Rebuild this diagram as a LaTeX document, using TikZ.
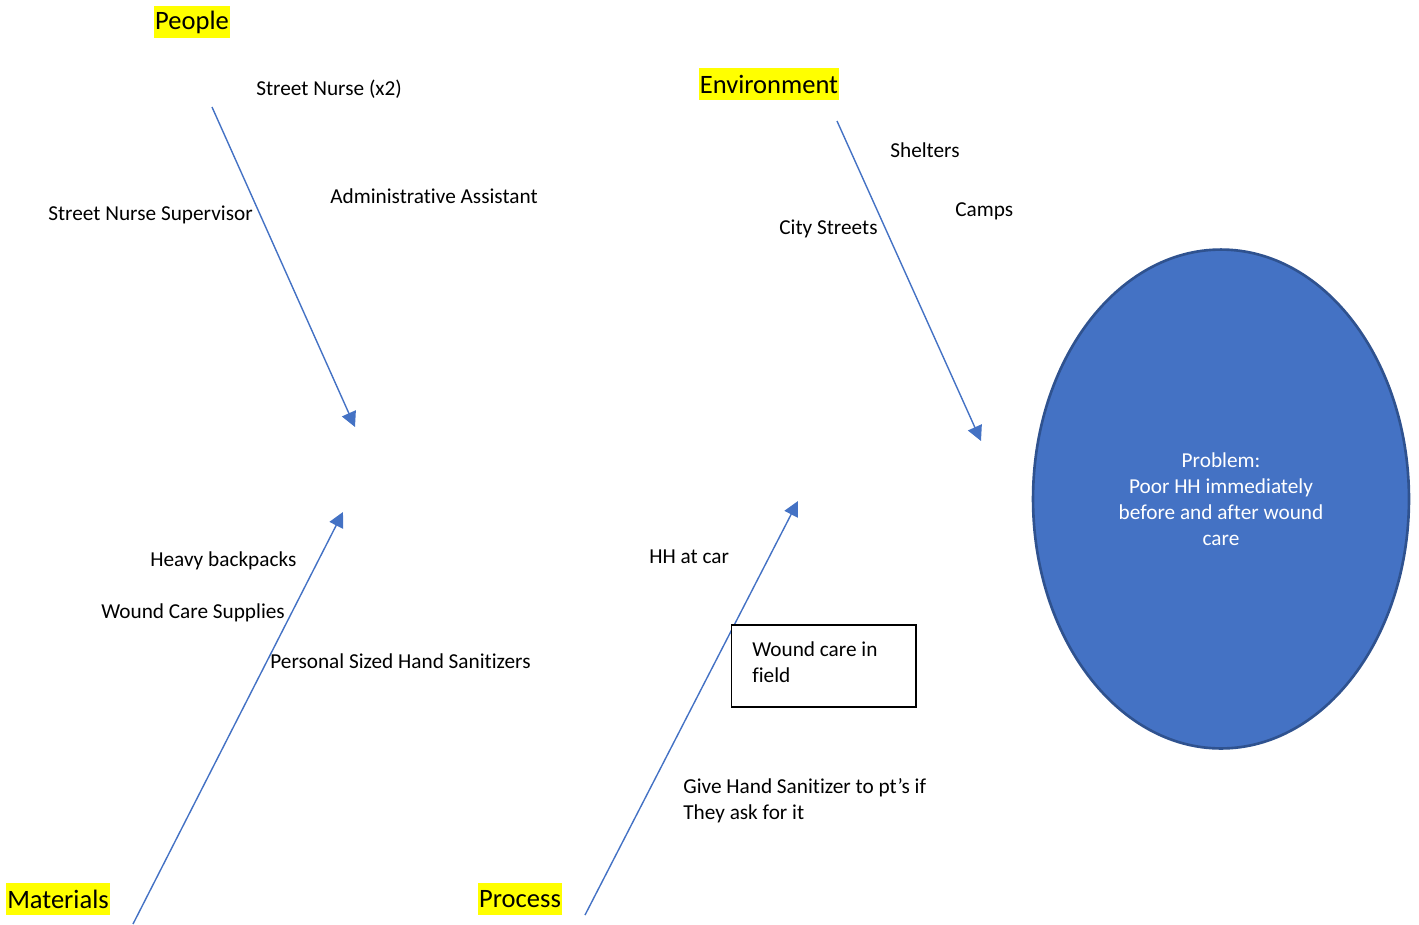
\documentclass[tikz,border=0pt]{standalone}
\usepackage{fontspec}
\setmainfont{Carlito}[Ligatures=NoCommon]
\usetikzlibrary{shapes.geometric,arrows.meta}
\definecolor{arrowblue}{HTML}{4472C4}
\definecolor{ellborder}{HTML}{2F528F}
\definecolor{hl}{HTML}{FFFF00}
\tikzset{
  lbl/.style={anchor=base west, inner sep=0pt, align=left, font=\fontsize{12.1}{14.8}\selectfont},
  cat/.style={fill=hl, inner xsep=0.5pt, inner ysep=0pt, minimum height=0.64cm, font=\fontsize{15.1}{18}\selectfont},
  bone/.style={draw=arrowblue, line width=0.8pt, -{Triangle[length=0.3cm,width=0.3cm]}},
}
\begin{document}
\begin{tikzpicture}[x=0.02cm,y=-0.02cm]
\useasboundingbox (0,0) rectangle (1419,924);

% category labels
\node[cat] (people) at (192,22) {People};
\node[cat] (env) at (769,84) {Environment};
\node[cat] (mat) at (58,899) {Materials};
\node[cat] (proc) at (520,899) {Process};

% arrows
\coordinate (p1) at (212,107);
\coordinate (p2) at (355,427);
\coordinate (e1) at (837,121);
\coordinate (e2) at (981,441);
\coordinate (m1) at (133,924);
\coordinate (m2) at (343,512);
\coordinate (r1) at (585,915);
\coordinate (r2) at (798,501);
\draw[bone] (p1) -- (p2);
\draw[bone] (e1) -- (e2);
\draw[bone] (m1) -- (m2);
\draw[bone] (r1) -- (r2);

% labels
\node[lbl] (sn2) at (256,95) {Street Nurse (x2)};
\node[lbl] (sns) at (48,220) {Street Nurse Supervisor};
\node[lbl] (aa) at (330,203) {Administrative Assistant};
\node[lbl] (shel) at (890,157) {Shelters};
\node[lbl] (camps) at (955,216) {Camps};
\node[lbl] (city) at (779,234) {City Streets};
\node[lbl] (bp) at (150,566) {Heavy backpacks};
\node[lbl] (wcs) at (101,618) {Wound Care Supplies};
\node[lbl] (phs) at (270,668) {Personal Sized Hand Sanitizers};
\node[lbl] (hh) at (649,563) {HH at car};
\node[lbl] (give) at (683,819) {Give Hand Sanitizer to pt’s if\\They ask for it};

% box
\node[draw=black, fill=white, line width=0.6pt, minimum width=3.7cm, minimum height=1.64cm, inner sep=0pt] (wcbox) at (823.5,666) {};
\node[lbl] (wctext) at (752,682) {Wound care in\\field};

% problem ellipse
\node[ellipse, draw=ellborder, line width=1.5pt, fill=arrowblue, minimum width=7.52cm, minimum height=9.98cm, inner sep=0pt, align=center, text=white, font=\fontsize{12.1}{14.8}\selectfont] (prob) at (1221,499) {Problem:\\Poor HH immediately\\before and after wound\\care};
\end{tikzpicture}
\end{document}
